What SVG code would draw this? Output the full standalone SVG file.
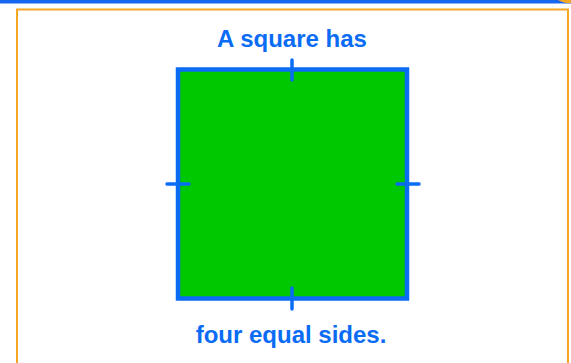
<svg xmlns="http://www.w3.org/2000/svg" width="571" height="363" viewBox="0 0 571 363">
<style>
.lbl{font-family:"Liberation Sans",Arial,sans-serif;font-weight:bold;font-size:24px;fill:#0a6cf5;text-anchor:middle}
.tick{stroke:#0a6cf5;stroke-width:3.5;stroke-linecap:round;fill:none}
</style>
<rect x="0" y="0" width="571" height="363" fill="#ffffff"/>
<rect x="0" y="0" width="571" height="3.5" fill="#1566f0"/>
<path d="M558 0 H571 V3 Q566 4 558 0 Z" fill="#f5a623"/>
<rect x="17" y="9.5" width="551" height="360" fill="none" stroke="#f5a623" stroke-width="2"/>
<g id="title"><text class="lbl" x="292" y="47">A square has</text></g>
<g id="square">
<rect x="178" y="69.5" width="229" height="229" fill="#00c800" stroke="#0a6cf5" stroke-width="4.5"/>
</g>
<g id="ticks">
<line class="tick" x1="292" y1="60" x2="292" y2="80"/>
<line class="tick" x1="292" y1="288" x2="292" y2="309"/>
<line class="tick" x1="167" y1="184" x2="189" y2="184"/>
<line class="tick" x1="397" y1="184" x2="419" y2="184"/>
</g>
<g id="caption"><text class="lbl" x="291" y="343">four equal sides.</text></g>
</svg>
